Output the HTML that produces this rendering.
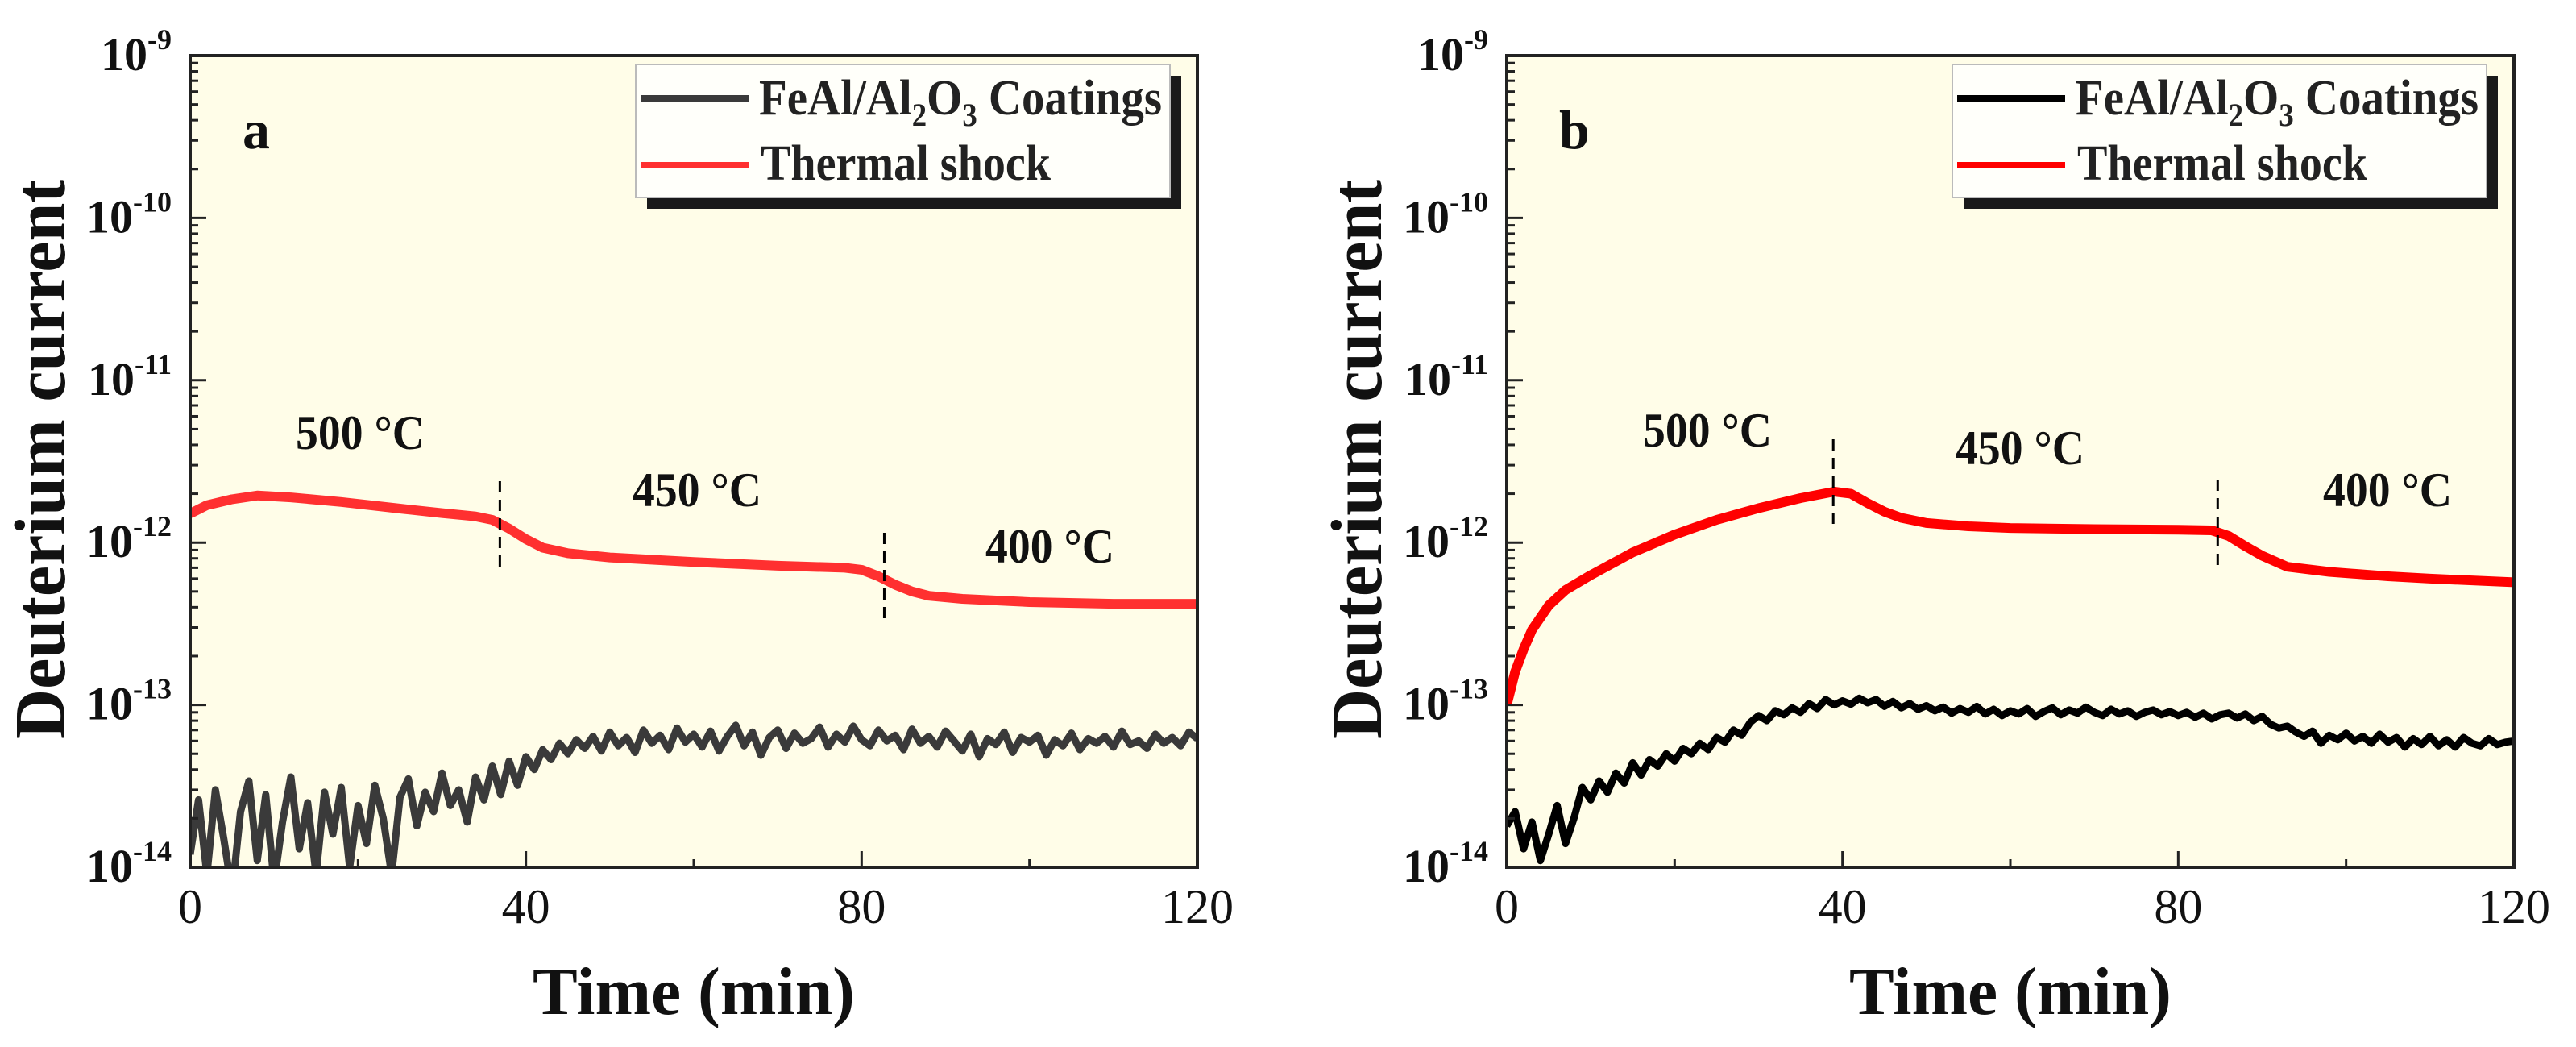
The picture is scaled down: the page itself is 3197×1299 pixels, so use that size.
<!DOCTYPE html>
<html><head><meta charset="utf-8"><style>
html,body{margin:0;padding:0;background:#fff;}
svg{display:block;font-family:"Liberation Serif",serif;font-weight:bold;}
</style></head><body>
<svg id="fig" width="3197" height="1299" viewBox="0 0 3197 1299" xmlns="http://www.w3.org/2000/svg"></svg>
<script>
// ---- data ----
const xTicks = [0,20,40,60,80,100,120];
const xTickLabels = ["0","","40","","80","","120"];
const yDecades = [-9,-10,-11,-12,-13,-14];
const tempLabels = ["500 °C","450 °C","400 °C"];
// panel a
const redA_t = [0,2,5,8,12,18,25,30,34,36,38,40,42,45,50,60,70,78,80,82,84,86,88,92,100,110,120];
const redA_v = [1.51,1.7,1.85,1.95,1.9,1.78,1.62,1.52,1.45,1.38,1.22,1.05,0.93,0.86,0.81,0.76,0.72,0.7,0.68,0.62,0.55,0.5,0.47,0.45,0.43,0.42,0.42]; // x1e-12
const blackA_v = [1.2,2.6,0.9,3.0,1.5,0.7,2.2,3.4,1.1,2.8,0.8,1.9,3.6,1.3,2.5,0.9,2.9,1.6,3.1,1.0,2.4,
1.4,3.2,2.0,0.9,2.7,3.5,1.8,2.9,2.2,3.8,2.4,3.0,1.9,3.6,2.6,4.2,2.8,4.5,3.2,4.8,
4.0,5.3,4.6,5.8,5.0,6.1,5.4,6.4,5.2,6.8,5.6,6.3,5.1,7.0,5.8,6.5,5.3,7.2,5.9,6.6,
5.5,6.9,5.2,6.4,7.5,5.6,6.8,4.9,6.3,7.0,5.4,6.7,5.8,6.2,7.3,5.5,6.6,5.9,7.4,6.1,
5.6,7.0,6.0,6.5,5.3,7.1,5.8,6.4,5.5,6.9,6.0,5.2,6.6,4.8,6.2,5.7,6.8,5.1,6.3,5.9,
6.5,4.9,6.1,5.6,6.7,5.3,6.2,5.8,6.4,5.5,6.9,5.7,6.0,5.4,6.6,5.8,6.3,5.6,6.8,6.2]; // x1e-14, 1-min steps
const dashA_t = [36.9,82.7];
// panel b
const redB_t = [0,1,2,3,5,7,10,15,20,25,30,35,39,41,43,45,47,50,55,60,70,80,84,86,88,90,93,98,105,110,120];
const redB_v = [0.1,0.16,0.22,0.29,0.41,0.51,0.63,0.87,1.12,1.38,1.63,1.88,2.06,2.0,1.75,1.55,1.42,1.32,1.26,1.23,1.21,1.2,1.19,1.1,0.95,0.83,0.71,0.66,0.62,0.6,0.57];
const blackB_v = [1.8,2.2,1.3,1.9,1.1,1.6,2.4,1.4,2.0,3.1,2.6,3.4,2.9,3.8,3.3,4.4,3.7,4.6,4.2,5.0,4.5,
5.4,5.0,5.8,5.3,6.3,5.9,7.0,6.5,7.8,8.6,8.0,9.2,8.7,9.6,9.0,10.2,9.5,10.8,10.0,10.6,
10.1,11.0,10.3,10.8,9.8,10.5,9.6,10.2,9.4,9.9,9.2,9.7,8.9,9.5,9.0,9.8,8.8,9.4,8.6,9.2,
8.8,9.5,8.5,9.1,9.6,8.7,9.3,8.9,9.7,9.0,8.6,9.4,8.8,9.2,8.5,9.0,9.3,8.7,9.1,8.6,
9.0,8.4,8.9,8.2,8.7,8.9,8.3,8.8,8.0,8.5,7.6,7.2,7.4,6.8,6.4,6.9,5.8,6.5,6.1,6.7,
6.0,6.4,5.8,6.6,5.9,6.3,5.5,6.2,5.7,6.4,5.6,6.1,5.5,6.3,5.8,5.6,6.2,5.7,5.9,6.0];
const dashB_t = [38.9,84.7];

const NS="http://www.w3.org/2000/svg";
const svg=document.getElementById('fig');
function mk(tag,attrs,parent){const e=document.createElementNS(NS,tag);for(const k in attrs)e.setAttribute(k,attrs[k]);(parent||svg).appendChild(e);return e;}

function panel(o){
  const L=o.left,R=o.left+1250,T=69,B=1076;
  const xs=t=>L+(t/120)*(R-L);
  const ys=v=>B-(Math.log10(v)+14)/5*(B-T);
  const g=mk('g',{});
  
  
  const bg=mk('rect',{x:L,y:T,width:R-L,height:B-T,fill:'#fffde8'},g);
  
  
  const cid='clip-'+o.id;
  const cp=mk('clipPath',{id:cid},g);mk('rect',{x:L,y:T,width:R-L,height:B-T},cp);
  // black series
  const bp=o.black.map((v,i)=>xs(i).toFixed(1)+','+ys(v*1e-14).toFixed(1)).join(' ');
  const bl=mk('polyline',{points:bp,fill:'none',stroke:o.blackColor,'stroke-width':o.blackW,'stroke-linejoin':'round','clip-path':'url(#'+cid+')'},g);
  
  
  // red series
  const rp=o.redT.map((t,i)=>xs(t).toFixed(1)+','+ys(o.redV[i]*1e-12).toFixed(1)).join(' ');
  const rl=mk('polyline',{points:rp,fill:'none',stroke:o.redColor,'stroke-width':12,'stroke-linejoin':'round','clip-path':'url(#'+cid+')'},g);
  
  
  // dashed lines
  o.dash.forEach((t,i)=>{
    const d=mk('line',{x1:xs(t),x2:xs(t),y1:o.dashY[i][0],y2:o.dashY[i][1],stroke:'#000','stroke-width':3,'stroke-dasharray':'14,9'},g);
    
    
  });
  // temperature labels
  tempLabels.forEach((s,i)=>{
    const tx=mk('text',{x:o.temps[i][0],y:o.temps[i][1]+21,'font-size':60,'text-anchor':'middle',fill:'#111',textLength:160,lengthAdjust:'spacingAndGlyphs'},g);
    tx.textContent=s;
    
    
  });
  // axes frame
  const fr=mk('rect',{x:L,y:T,width:R-L,height:B-T,fill:'none',stroke:'#222','stroke-width':4},g);
  
  
  // y ticks
  yDecades.forEach(d=>{
    const y=ys(Math.pow(10,d));
    mk('line',{x1:L,x2:L+20,y1:y,y2:y,stroke:'#222','stroke-width':3},g);
    if(d>-14){for(let m=2;m<=9;m++){const yy=ys(m*Math.pow(10,d-1));mk('line',{x1:L,x2:L+10,y1:yy,y2:yy,stroke:'#222','stroke-width':3},g);}}
    const lb=mk('text',{x:L-23,y:y+18,'font-size':58,'text-anchor':'end',fill:'#111'},g);
    
    
    const t1=mk('tspan',{},lb);t1.textContent='10';
    const t2=mk('tspan',{dy:-26,'font-size':36},lb);t2.textContent=String(d);
  });
  // x ticks
  xTicks.forEach((t,i)=>{
    const x=xs(t);const len=xTickLabels[i]?20:10;
    if(t>0&&t<120)mk('line',{x1:x,x2:x,y1:B,y2:B-len,stroke:'#222','stroke-width':3},g);
    if(xTickLabels[i]){
      const lb=mk('text',{x:x,y:1145,'font-size':60,'font-weight':'normal','text-anchor':'middle',fill:'#111'},g);
      lb.textContent=xTickLabels[i];
      
      
    }
  });
  // axis titles
  const xt=mk('text',{x:(L+R)/2,y:1258,'font-size':84,'text-anchor':'middle',fill:'#111',textLength:400,lengthAdjust:'spacingAndGlyphs'},g);
  xt.textContent='Time (min)';
  
  
  const yt=mk('text',{x:0,y:0,'font-size':90,'text-anchor':'middle',fill:'#111',textLength:694,lengthAdjust:'spacingAndGlyphs',transform:'translate('+(L-156)+',570) rotate(-90)'},g);
  yt.textContent='Deuterium current';
  
  
  // panel letter
  const pl=mk('text',{x:L+65,y:184,'font-size':68,fill:'#111'},g);
  pl.textContent=o.letter;
  
  
  // legend
  const lx=L+553,ly=80,lw=663,lh=165;
  const lg=mk('g',{},g);
  
  
  mk('rect',{x:lx+14,y:ly+14,width:lw,height:lh,fill:'#1a1a1a'},lg);
  mk('rect',{x:lx,y:ly,width:lw,height:lh,fill:'#fffffa',stroke:'#bbb','stroke-width':2},lg);
  const e1=mk('line',{x1:lx+6,x2:lx+140,y1:ly+42,y2:ly+42,stroke:o.blackColor,'stroke-width':8},lg);
  
  
  const tx1=mk('text',{x:lx+153,y:ly+62,'font-size':62,fill:'#222',textLength:500,lengthAdjust:'spacingAndGlyphs'},lg);
  
  
  tx1.innerHTML='FeAl/Al<tspan font-size="40" dy="14">2</tspan><tspan dy="-14">O</tspan><tspan font-size="40" dy="14">3</tspan><tspan dy="-14"> Coatings</tspan>';
  const e2=mk('line',{x1:lx+6,x2:lx+140,y1:ly+125,y2:ly+125,stroke:o.redColor,'stroke-width':8},lg);
  
  
  const tx2=mk('text',{x:lx+155,y:ly+143,'font-size':62,fill:'#222',textLength:360,lengthAdjust:'spacingAndGlyphs'},lg);
  tx2.textContent='Thermal shock';
  
  
}
panel({id:'a',letter:'a',left:236,redT:redA_t,redV:redA_v,black:blackA_v,blackColor:'#3a3a3a',blackW:9,redColor:'#ff3030',
  dash:dashA_t,dashY:[[597,703],[661,767]],temps:[[447,536],[865,607],[1303,677]]});
panel({id:'b',letter:'b',left:1870,redT:redB_t,redV:redB_v,black:blackB_v,blackColor:'#000',blackW:9,redColor:'#ff0000',
  dash:dashB_t,dashY:[[545,650],[595,702]],temps:[[2119,533],[2507,555],[2963,607]]});
</script>
</body></html>
